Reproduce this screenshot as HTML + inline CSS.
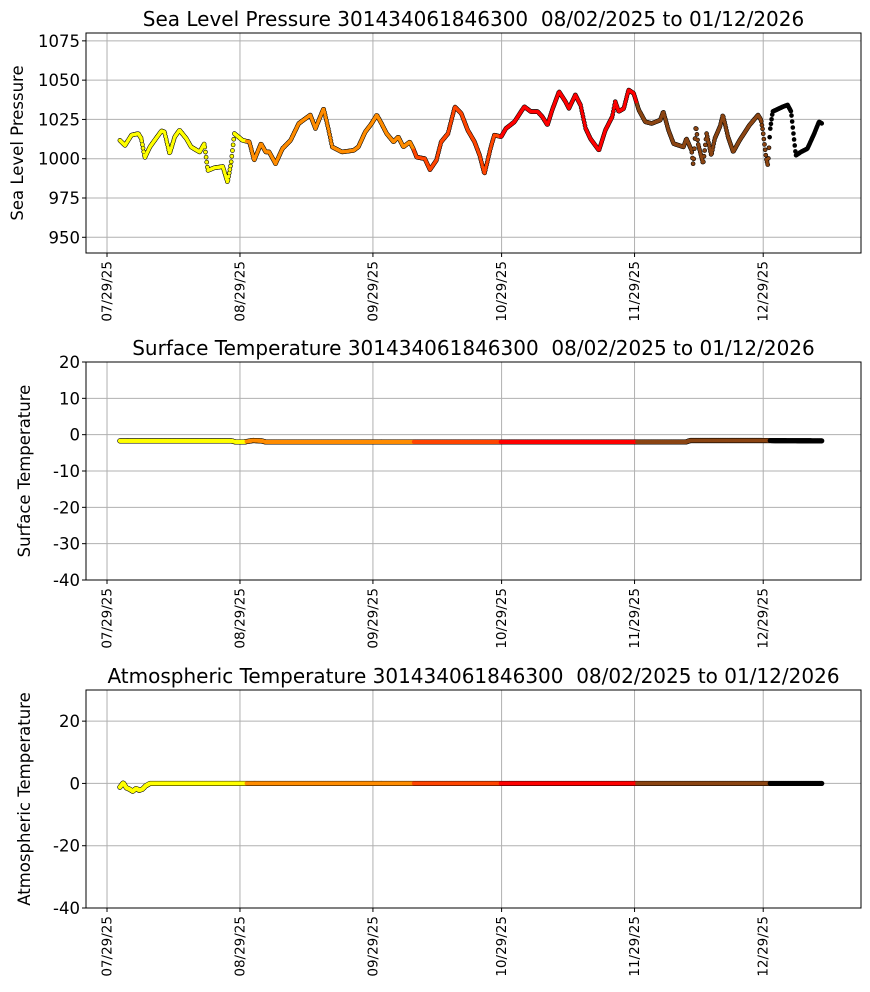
<!DOCTYPE html>
<html><head><meta charset="utf-8"><style>
body{margin:0;background:#fff;}
svg{display:block;font-family:"DejaVu Sans","Liberation Sans",sans-serif;}
text{white-space:pre;}
</style></head><body>
<svg id="fig" width="870" height="992" viewBox="0 0 870 992"></svg>
<script>
// ---- data (days since 07/29/25) ----
const pressDays=[3.0,4.2,5.7,7.3,8.0,8.8,10.0,11.1,12.7,13.4,14.6,15.8,16.9,18.5,19.6,21.6,22.7,23.5,25.0,27.0,28.1,28.9,29.7,31.6,33.2,34.3,35.9,37.0,37.8,39.3,40.9,42.8,44.7,47.4,48.6,50.5,51.7,52.5,54.8,57.5,58.6,60.2,61.7,62.9,64.0,65.2,66.8,67.9,69.1,70.6,71.4,72.2,74.1,75.3,76.8,77.9,79.5,81.1,82.6,84.1,85.7,86.9,88.0,89.5,90.3,91.9,93.0,95.0,97.3,98.8,100.4,101.5,102.7,103.8,105.4,106.9,107.7,109.2,110.4,111.6,112.7,114.7,116.2,117.8,118.5,119.3,120.5,121.6,122.8,124.0,125.5,127.0,129.0,129.7,130.9,132.1,134.4,135.1,136.3,136.7,137.3,137.8,139.0,139.8,140.9,141.7,142.9,143.6,144.8,146.0,147.5,149.8,151.8,152.5,152.9,153.7,154.1,154.6,155.2,157.6,158.7,159.5,160.6,161.8,163.3,164.9,166.0,166.7];
const pressVals=[1011.7,1008.5,1015,1016,1012.8,1000.6,1007.5,1011.7,1017.7,1017,1003.2,1014,1018.2,1012.8,1007.5,1004.3,1009.6,992.5,994.2,995,985,996.8,1016,1011.7,1010.7,999,1009.6,1004.3,1004.3,996.8,1006.4,1011.7,1022.4,1027.8,1019.2,1032,1018,1007.5,1004.3,1005.3,1007.5,1017,1022.4,1027.8,1022.4,1016,1010.7,1013.9,1007.5,1010.7,1006.4,1001,1000,993,999,1010.7,1016,1033,1028.8,1018.2,1010.7,1002.1,990.4,1007.5,1015,1014,1019.2,1023.5,1033.1,1030,1030,1026.7,1021.4,1031,1042.7,1036.3,1032,1040.6,1034.2,1019.2,1012.8,1005.3,1018.2,1026.7,1036.3,1030,1032,1043.8,1041.6,1031,1023.5,1022.4,1024.6,1030,1018.2,1009.6,1007.5,1012.8,1005.3,995.6,1021.4,1009.6,996.8,1016,1002.1,1012.8,1020.3,1027.8,1013.9,1004.3,1011.7,1021.4,1027.8,1024.6,1018.2,1000,995.7,1018.2,1030,1033.1,1034.2,1030,1002.1,1004.3,1006.4,1016,1023.5,1022.4];
const sstDays=[3,29,30,32,34,36,37,60,100,120,135,136,150,166.7];
const sstVals=[-1.7,-1.7,-2.0,-2.0,-1.6,-1.7,-2.0,-2.0,-2.0,-2.0,-2.0,-1.6,-1.6,-1.7];
const airDays=[3,3.8,4.5,5.2,6.0,6.8,7.5,8.3,9.0,10,12,40,166.7];
const airVals=[-1.2,0.2,-1.4,-1.8,-2.5,-1.6,-2.2,-1.8,-0.8,0,0,0,0];
const xTickLabels=["07/29/25","08/29/25","09/29/25","10/29/25","11/29/25","12/29/25"];
const xTickDays=[0,31,62,92,123,153];
const colorBreaks=[32.5,71.4,91.8,123.5,154.4];
const colorList=["#ffff00","#ff8c00","#ff4500","#ff0000","#8b4513","#000000"];

const NS="http://www.w3.org/2000/svg";
const fig=document.getElementById('fig');
function el(tag,attrs,parent){const e=document.createElementNS(NS,tag);for(const k in attrs)e.setAttribute(k,attrs[k]);(parent||fig).appendChild(e);return e;}
const X0=86,X1=861,D0=-4.9,D1=175.8;
function xs(d){return X0+(d-D0)/(D1-D0)*(X1-X0);}
function colorFor(d){let i=0;while(i<colorBreaks.length&&d>=colorBreaks[i])i++;return colorList[i];}
function interp(days,vals,d){for(let i=0;i<days.length-1;i++){if(d>=days[i]&&d<=days[i+1]){const t=(d-days[i])/(days[i+1]-days[i]);return vals[i]+t*(vals[i+1]-vals[i]);}}return vals[vals.length-1];}

function panel(cfg){
  const g=el('g',{});
  
  
  const ys=v=>cfg.y1-(v-cfg.vmin)/(cfg.vmax-cfg.vmin)*(cfg.y1-cfg.y0);
  xTickDays.forEach((d,i)=>{
    const gl=el('line',{x1:xs(d),x2:xs(d),y1:cfg.y0,y2:cfg.y1,stroke:'#b0b0b0','stroke-width':1},g);
    
    
    const tk=el('line',{x1:xs(d),x2:xs(d),y1:cfg.y1,y2:cfg.y1+4,stroke:'#000','stroke-width':1},g);
    
    
    const xx=xs(d)+4.5, yy=cfg.y1+8;
    const t=el('text',{x:xx,y:yy,'font-size':13.5,'text-anchor':'end',transform:`rotate(-90 ${xx} ${yy})`},g);
    t.textContent=xTickLabels[i];
    
    
  });
  cfg.yticks.forEach(v=>{
    const gl=el('line',{x1:X0,x2:X1,y1:ys(v),y2:ys(v),stroke:'#b0b0b0','stroke-width':1},g);
    
    
    const tk=el('line',{x1:X0-4,x2:X0,y1:ys(v),y2:ys(v),stroke:'#000'},g);
    
    
    const t=el('text',{x:X0-6,y:ys(v)+6,'font-size':16.5,'text-anchor':'end'},g);
    t.textContent=v;
    
    
  });
  const days=cfg.days,vals=cfg.vals;
  const start=days[0],end=days[days.length-1];
  const pts=[];
  for(let d=start;d<=end+1e-6;d+=cfg.step){pts.push([d,interp(days,vals,d)]);}
  pts.forEach(p=>{
    const c=el('circle',{cx:xs(p[0]),cy:ys(p[1]),r:cfg.r,fill:'#000'},g);
    
    
  });
  pts.forEach(p=>{
    const c=el('circle',{cx:xs(p[0]),cy:ys(p[1]),r:cfg.r-0.6,fill:colorFor(p[0])},g);
    
    
  });
  const fr=el('rect',{x:X0,y:cfg.y0,width:X1-X0,height:cfg.y1-cfg.y0,fill:'none',stroke:'#000','stroke-width':1},g);
  
  
  const tt=el('text',{x:(X0+X1)/2,y:cfg.y0-7,'font-size':20,'text-anchor':'middle'},g);
  tt.textContent=cfg.title;
  
  
  const cy=(cfg.y0+cfg.y1)/2;
  const yl=el('text',{x:cfg.ylx,y:cy,'font-size':16.5,'text-anchor':'middle',transform:`rotate(-90 ${cfg.ylx} ${cy})`},g);
  yl.textContent=cfg.ylabel;
  
  
}
panel({name:'sea-level-pressure-chart',y0:33,y1:253,vmin:940,vmax:1080,yticks:[950,975,1000,1025,1050,1075],days:pressDays,vals:pressVals,step:0.15,r:2.3,title:'Sea Level Pressure 301434061846300  08/02/2025 to 01/12/2026',ylabel:'Sea Level Pressure',ylx:23});
panel({name:'surface-temperature-chart',y0:362,y1:580,vmin:-40,vmax:20,yticks:[-40,-30,-20,-10,0,10,20],days:sstDays,vals:sstVals,step:0.15,r:2.6,title:'Surface Temperature 301434061846300  08/02/2025 to 01/12/2026',ylabel:'Surface Temperature',ylx:30});
panel({name:'atmospheric-temperature-chart',y0:690,y1:908,vmin:-40,vmax:30,yticks:[-40,-20,0,20],days:airDays,vals:airVals,step:0.15,r:2.6,title:'Atmospheric Temperature 301434061846300  08/02/2025 to 01/12/2026',ylabel:'Atmospheric Temperature',ylx:30});
</script>
</body></html>
